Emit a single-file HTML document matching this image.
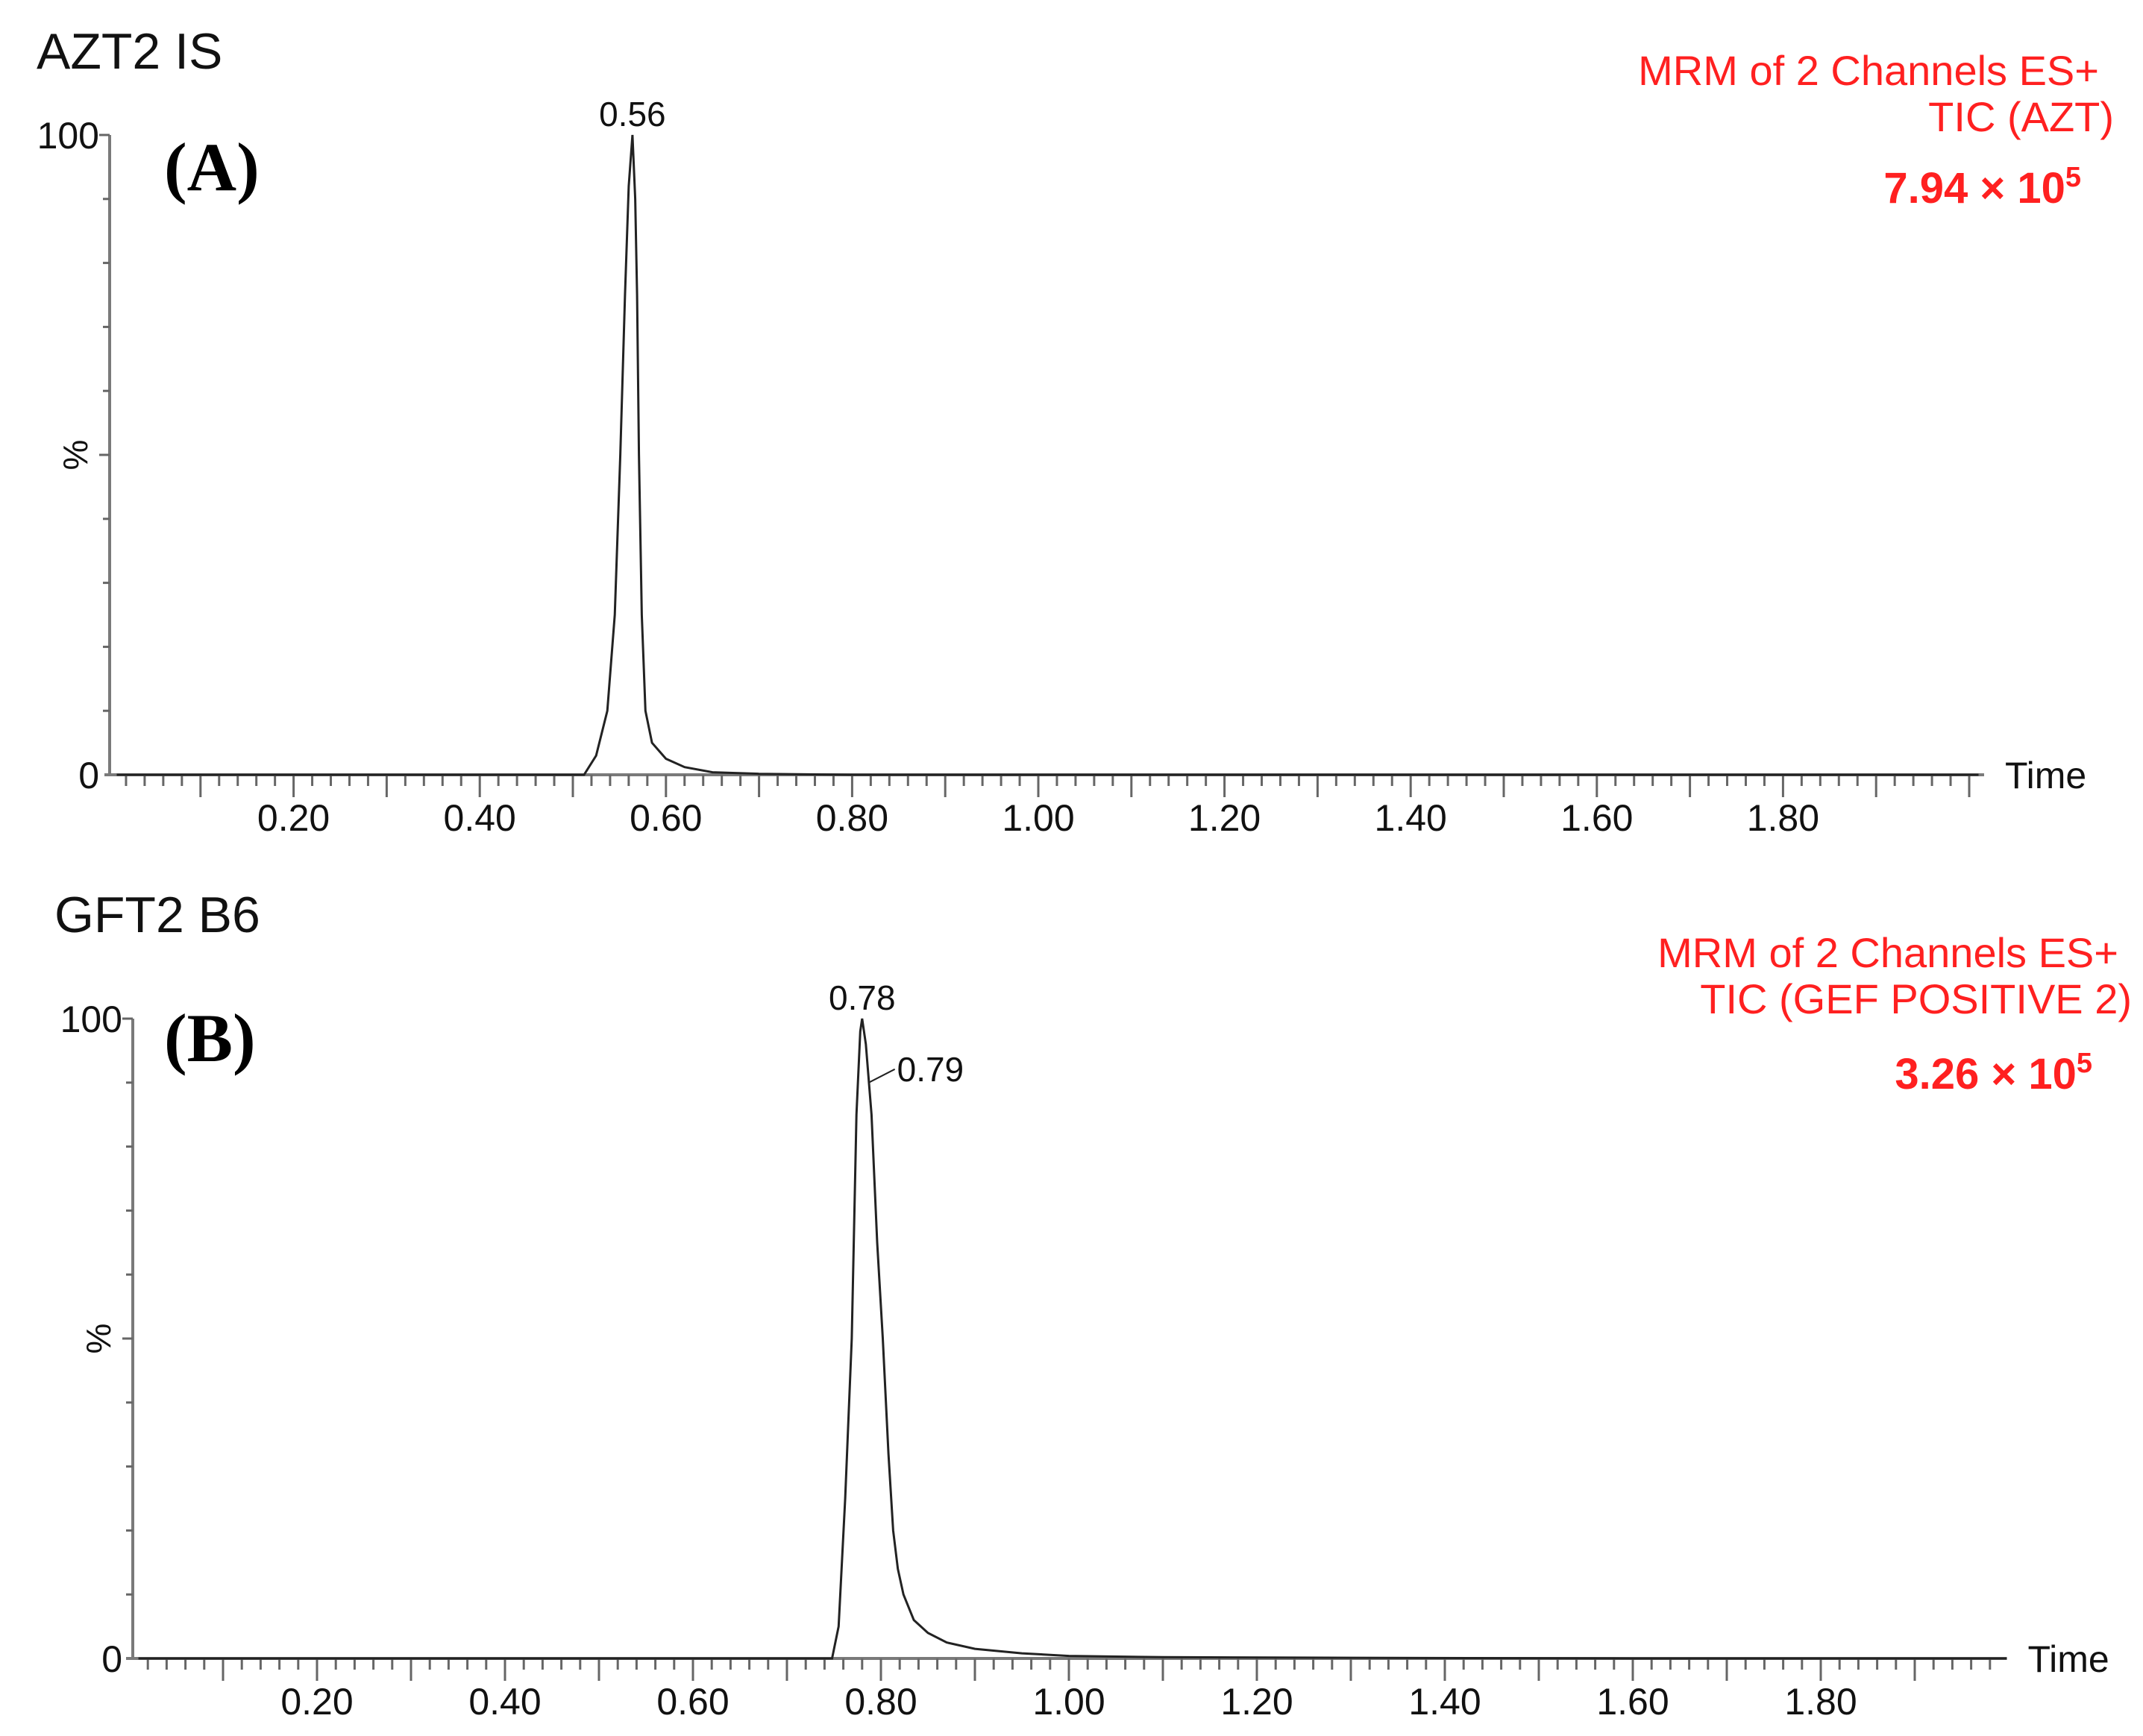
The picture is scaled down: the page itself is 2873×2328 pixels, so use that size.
<!DOCTYPE html>
<html><head><meta charset="utf-8">
<style>
html,body{margin:0;padding:0;background:#fff;}
svg{display:block;}
text{font-family:"Liberation Sans",Arial,sans-serif;}
</style></head>
<body>
<svg id="chart" width="2873" height="2328" viewBox="0 0 2873 2328" xmlns="http://www.w3.org/2000/svg">
<rect width="2873" height="2328" fill="#fff"/>
<text x="49" y="92" font-size="68" fill="#111">AZT2 IS</text>
<text x="73" y="1250" font-size="68" fill="#111">GFT2 B6</text>
<text x="220" y="255" font-size="92" font-weight="bold" style="font-family:'Liberation Serif',serif">(A)</text>
<text x="220" y="1423" font-size="92" font-weight="bold" style="font-family:'Liberation Serif',serif">(B)</text>
<g fill="#ff2020" font-size="56" text-anchor="end">
<text x="2814" y="114">MRM of 2 Channels ES+</text>
<text x="2834" y="176">TIC (AZT)</text>
<text x="2790" y="272" font-size="58" font-weight="bold">7.94 × 10<tspan font-size="38" dy="-22">5</tspan></text>
<text x="2840" y="1297">MRM of 2 Channels ES+</text>
<text x="2858" y="1359">TIC (GEF POSITIVE 2)</text>
<text x="2805" y="1460" font-size="58" font-weight="bold">3.26 × 10<tspan font-size="38" dy="-22">5</tspan></text>
</g>
</svg>
<script>
// Panel A data (time, % intensity)
var timeA = [0.01,0.30,0.50,0.512,0.525,0.537,0.545,0.551,0.556,0.560,0.564,0.567,0.569,0.571,0.574,0.578,0.585,0.600,0.620,0.650,0.700,0.800,1.00,1.50,2.01];
var valA  = [0,0,0,0,3,10,25,50,75,92,100,90,75,50,25,10,5,2.5,1.2,0.4,0.15,0,0,0,0];
// Panel B data
var timeB = [0.01,0.40,0.70,0.748,0.755,0.762,0.769,0.774,0.778,0.780,0.784,0.790,0.796,0.802,0.808,0.813,0.818,0.824,0.835,0.850,0.870,0.900,0.950,1.00,1.10,1.30,1.60,2.01];
var valB  = [0,0,0,0,5,25,50,85,98,100,96,85,65,50,32,20,14,10,6,4,2.5,1.5,0.8,0.4,0.2,0.1,0,0];
var xTickLabels = ["0.20","0.40","0.60","0.80","1.00","1.20","1.40","1.60","1.80"];
var xTickValues = [0.2,0.4,0.6,0.8,1.0,1.2,1.4,1.6,1.8];
var yTickLabels = ["0","100"];
var yTickValues = [0,100];

var NS="http://www.w3.org/2000/svg";
var svg=document.getElementById('chart');
function mk(tag,attrs,parent){var e=document.createElementNS(NS,tag);for(var k in attrs)e.setAttribute(k,attrs[k]);(parent||svg).appendChild(e);return e;}

function panel(p,times,vals,id){
  var xs=function(t){return p.x0+t*p.px;};
  var ys=function(v){return p.y0-(v/100)*(p.y0-p.y100);};
  var g=mk('g',{});
  
  
  var axisEnd=xs(p.tmax);
  var xa=mk('line',{x1:p.x0-4,y1:p.y0,x2:axisEnd,y2:p.y0,stroke:'#7a7a7a','stroke-width':4},g);
  
  
  var ya=mk('line',{x1:p.ax,y1:p.y100,x2:p.ax,y2:p.y0,stroke:'#7a7a7a','stroke-width':4},g);
  
  
  for(var i=1;i<110;i++){var t=i*0.02;var x=xs(t);if(x>axisEnd-4)break;
    var major=(i%5===0);
    var tk=mk('line',{x1:x,y1:p.y0,x2:x,y2:p.y0+(major?30:15),stroke:'#666','stroke-width':3},g);
    
    }
  for(var v=10;v<=100;v+=10){var y=ys(v);
    var yt=mk('line',{x1:p.ax-(v===100||v===50?14:9),y1:y,x2:p.ax,y2:y,stroke:'#666','stroke-width':3},g);
    
    }
  for(var j=0;j<xTickValues.length;j++){
    var tl=mk('text',{x:xs(xTickValues[j]),y:p.y0+75,'font-size':50,'text-anchor':'middle',fill:'#111'},g);
    tl.textContent=xTickLabels[j];
    
    }
  for(var k=0;k<yTickValues.length;k++){
    var yl=mk('text',{x:p.ax-14,y:ys(yTickValues[k])+18,'font-size':50,'text-anchor':'end',fill:'#111'},g);
    yl.textContent=yTickLabels[k];
    
    }
  var pc=mk('text',{x:0,y:0,'font-size':46,'text-anchor':'middle',fill:'#111',transform:'translate('+(p.ax-30)+','+ys(50)+') rotate(-90)'},g);
  pc.textContent='%';
  
  
  var tm=mk('text',{x:axisEnd+28,y:p.y0+18,'font-size':50,fill:'#111'},g);
  tm.textContent='Time';
  
  
  var d='';
  for(var n=0;n<times.length;n++){d+=(n?'L':'M')+xs(Math.min(times[n],p.tmax)).toFixed(1)+','+ys(vals[n]).toFixed(1);}
  var line=mk('path',{d:d,fill:'none',stroke:'#222','stroke-width':3},g);
  
  
  return {xs:xs,ys:ys,g:g};
}

var pA=panel({x0:144,px:1248,y0:1039,y100:181,ax:147,tmax:2.016},timeA,valA,'a');
var pB=panel({x0:173,px:1260,y0:2224,y100:1366,ax:178,tmax:1.998},timeB,valB,'b');

var la=mk('text',{x:pA.xs(0.564),y:pA.ys(100)-12,'font-size':46,'text-anchor':'middle',fill:'#111'});
la.textContent='0.56';


var lb=mk('text',{x:pB.xs(0.780),y:pB.ys(100)-12,'font-size':46,'text-anchor':'middle',fill:'#111'});
lb.textContent='0.78';


var ld=mk('line',{x1:pB.xs(0.787),y1:pB.ys(90),x2:pB.xs(0.787)+35,y2:pB.ys(90)-18,stroke:'#222','stroke-width':2});


var lc=mk('text',{x:pB.xs(0.787)+38,y:pB.ys(90)-2,'font-size':46,fill:'#111'});
lc.textContent='0.79';


</script>
</body></html>
